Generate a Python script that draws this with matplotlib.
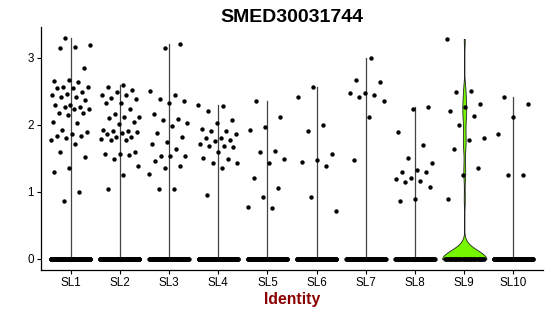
## violin + jitter plot of one gene across clusters
import numpy as np
import matplotlib
matplotlib.use('Agg')
import matplotlib.pyplot as plt

plt.rcParams['font.family'] = ['Liberation Sans', 'DejaVu Sans']

gene = 'SMED30031744'
clusters = ['SL1', 'SL2', 'SL3', 'SL4', 'SL5', 'SL6', 'SL7', 'SL8', 'SL9', 'SL10']

# expressing cells (non-zero values) per cluster
sl1 = [3.29, 3.19, 3.16, 3.15, 2.85, 2.67, 2.65, 2.64, 2.57, 2.56, 2.55, 2.55, 2.49, 2.46,
       2.44, 2.42, 2.41, 2.37, 2.30, 2.30, 2.27, 2.26, 2.23, 2.23, 2.18, 2.17, 2.14, 2.04,
       2.02, 1.92, 1.89, 1.87, 1.83, 1.83, 1.80, 1.77, 1.71, 1.59, 1.52, 1.35, 1.30, 1.00, 0.86]
sl2 = [2.60, 2.57, 2.52, 2.49, 2.44, 2.44, 2.40, 2.38, 2.33, 2.32, 2.24, 2.16, 2.12, 2.11,
       2.10, 2.04, 2.01, 1.92, 1.91, 1.91, 1.89, 1.88, 1.86, 1.82, 1.82, 1.79, 1.78, 1.77,
       1.59, 1.57, 1.56, 1.55, 1.49, 1.39, 1.25, 1.04]
sl3 = [3.20, 3.14, 2.50, 2.44, 2.38, 2.35, 2.32, 2.16, 2.09, 2.07, 2.03, 1.98, 1.88, 1.82,
       1.74, 1.72, 1.64, 1.53, 1.53, 1.53, 1.46, 1.39, 1.36, 1.26, 1.05, 1.04]
sl4 = [2.30, 2.28, 2.20, 2.07, 2.03, 1.94, 1.91, 1.90, 1.86, 1.81, 1.80, 1.77, 1.76, 1.71,
       1.69, 1.68, 1.67, 1.59, 1.50, 1.49, 1.43, 1.43, 1.35, 0.96]
sl5 = [2.35, 2.11, 1.97, 1.92, 1.61, 1.60, 1.49, 1.43, 1.21, 1.06, 0.93, 0.77, 0.76]
sl6 = [2.57, 2.42, 2.00, 1.91, 1.57, 1.47, 1.44, 1.39, 0.92, 0.71]
sl7 = [3.00, 2.67, 2.64, 2.47, 2.47, 2.45, 2.41, 2.36, 2.11, 1.48]
sl8 = [2.26, 2.23, 1.89, 1.70, 1.50, 1.43, 1.32, 1.30, 1.30, 1.21, 1.19, 1.16, 1.14, 1.07,
       0.89, 0.87]
sl9 = [3.28, 2.51, 2.49, 2.31, 2.26, 2.20, 2.13, 2.00, 1.80, 1.77, 1.64, 1.35, 1.25, 0.89]
sl10 = [2.41, 2.31, 2.11, 1.87, 1.25, 1.25]
expressing = [sl1, sl2, sl3, sl4, sl5, sl6, sl7, sl8, sl9, sl10]

# cells with zero expression per cluster (estimated)
n_zero = [220, 240, 210, 190, 180, 200, 170, 160, 45, 150]

highlight = 'SL9'
green = '#76F700'


def jitter(n, phase):
    # deterministic spread in [-0.4, 0.4]
    k = np.arange(n)
    return ((k * 0.6180339887 + phase) % 1.0 - 0.5) * 0.8


fig = plt.figure(figsize=(5.5, 3.16), dpi=100)
ax = fig.add_axes([41 / 550, 46 / 316, 502 / 550, 242.8 / 316])

ymax = max(max(v) for v in expressing)
for i, (name, vals, nz) in enumerate(zip(clusters, expressing, n_zero)):
    x = i + 1
    vals = np.array(vals)
    allv = np.concatenate([np.zeros(nz), vals])
    if name == highlight:
        grid = np.linspace(0, allv.max(), 600)
        bw = 0.13
        dens = np.exp(-(grid[:, None] - allv[None, :]) ** 2 / (2 * bw ** 2)).sum(axis=1)
        half = dens / dens.max() * 0.45
        ax.fill_betweenx(grid, x - half, x + half, facecolor=green,
                         edgecolor='#222222', linewidth=0.6, zorder=2)
    else:
        ax.plot([x, x], [0, allv.max()], color='#444444', lw=0.9, zorder=2)
    # zero cells, then expressing cells
    ax.scatter(x + jitter(nz, 0.13 * i), np.zeros(nz), s=10, color='black',
               linewidths=0, zorder=3)
    ax.scatter(x + jitter(len(vals), 0.37 + 0.21 * i), vals, s=10, color='black',
               linewidths=0, zorder=3)

ax.set_xlim(0.4, len(clusters) + 0.6)
ax.set_ylim(-0.05 * ymax, ymax * 1.05)
ax.set_xticks(range(1, len(clusters) + 1))
ax.set_xticklabels(clusters)
ax.set_yticks([0, 1, 2, 3])
ax.tick_params(labelsize=8.4, length=3, width=0.8, pad=2, colors='black')
for s in ['top', 'right']:
    ax.spines[s].set_visible(False)
for s in ['left', 'bottom']:
    ax.spines[s].set_linewidth(0.9)

ax.set_title(gene, fontsize=14, fontweight='bold', pad=4)
ax.set_xlabel('Identity', fontsize=11.3, fontweight='bold', color='#8B0000', labelpad=2)

fig.savefig('out.png', dpi=100)
